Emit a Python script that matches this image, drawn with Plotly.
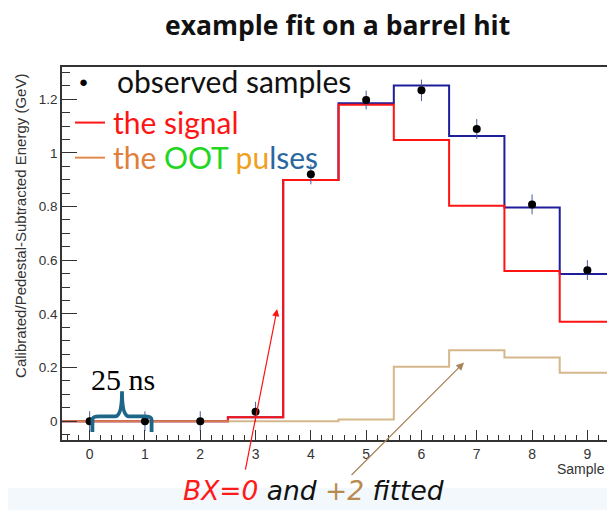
import plotly.graph_objects as go

# ---- data ----
samples = [0, 1, 2, 3, 4, 5, 6, 7, 8, 9]
observed = [0.0, 0.0, 0.0, 0.035, 0.92, 1.197, 1.233, 1.089, 0.808, 0.563]
observed_err = [0.037, 0.037, 0.037, 0.037, 0.037, 0.035, 0.040, 0.037, 0.037, 0.037]
signal = [0.0, 0.0, 0.0, 0.015, 0.899, 1.179, 1.048, 0.803, 0.56, 0.371]
oot = [0.0, 0.0, 0.0, 0.0, 0.0, 0.006, 0.203, 0.264, 0.237, 0.181]
total = [0.0, 0.0, 0.0, 0.015, 0.899, 1.185, 1.251, 1.063, 0.796, 0.549]

x_tick_vals = [0, 1, 2, 3, 4, 5, 6, 7, 8, 9]
y_tick_vals = [0, 0.2, 0.4, 0.6, 0.8, 1.0, 1.2]
y_tick_text = ["0", "0.2", "0.4", "0.6", "0.8", "1", "1.2"]


def step_xy(centers, values):
    xs = [c - 0.5 for c in centers] + [centers[-1] + 0.5]
    ys = list(values) + [values[-1]]
    return xs, ys


RED = "#ff1414"
BLUE = "#1e1e9a"
TAN = "#c9a066"
SANS = "Lato"

fig = go.Figure()

for vals, col, op in [(total, BLUE, 1.0), (signal, RED, 1.0), (oot, TAN, 0.75)]:
    xs, ys = step_xy(samples, vals)
    fig.add_trace(go.Scatter(x=xs, y=ys, mode="lines", line_shape="hv",
                             line=dict(color=col, width=2), opacity=op,
                             hoverinfo="skip", showlegend=False))

fig.add_trace(go.Scatter(
    x=samples, y=observed, mode="markers",
    marker=dict(color="black", size=8),
    error_y=dict(type="data", array=observed_err, color="#4a5aa0",
                 thickness=1, width=0),
    showlegend=False))


# brace spanning one sample (25 ns)
def brace_path(x0, x1, ybar, ytip, yarm):
    xm = (x0 + x1) / 2
    return (f"M {x0},{yarm} L {x0},{ybar - 0.012} "
            f"Q {x0},{ybar} {x0 + 0.13},{ybar} "
            f"L {xm - 0.13},{ybar} Q {xm},{ybar} {xm},{ytip} "
            f"Q {xm},{ybar} {xm + 0.13},{ybar} "
            f"L {x1 - 0.13},{ybar} Q {x1},{ybar} {x1},{ybar - 0.012} L {x1},{yarm}")


shapes = [
    # faint band at bottom
    dict(type="rect", xref="paper", yref="paper", x0=-0.2, x1=1.05,
         y0=-0.22, y1=-0.129, line=dict(width=0), fillcolor="#f3f8fc",
         layer="below"),
    dict(type="path", xref="x", yref="y",
         path=brace_path(0.05, 1.12, 0.018, 0.112, -0.04),
         line=dict(color="#1d6688", width=3.8)),
    # legend line samples
    dict(type="line", xref="paper", yref="paper", x0=0.0239, x1=0.0789,
         y0=0.851, y1=0.851, line=dict(color=RED, width=2)),
    dict(type="line", xref="paper", yref="paper", x0=0.0239, x1=0.0789,
         y0=0.757, y1=0.757, line=dict(color="#e08a4c", width=2)),
]

annotations = [
    dict(text="<b>example fit on a barrel hit</b>", xref="paper", yref="paper",
         x=0.5064, y=1.113, xanchor="center", yanchor="middle", showarrow=False,
         font=dict(family="Open Sans", size=26.5, color="#111")),
    dict(text="●", xref="paper", yref="paper", x=0.040, y=0.962,
         xanchor="center", yanchor="middle", showarrow=False,
         font=dict(size=15, color="black")),
    dict(text="observed samples", xref="paper", yref="paper", x=0.0972, y=0.962,
         xanchor="left", yanchor="middle", showarrow=False,
         font=dict(family=SANS, size=30, color="#111")),
    dict(text="the signal", xref="paper", yref="paper", x=0.0899, y=0.853,
         xanchor="left", yanchor="middle", showarrow=False,
         font=dict(family=SANS, size=30, color=RED)),
    dict(text="<span style='color:#e07f3c'>the </span>"
              "<span style='color:#22d622'>OOT</span> "
              "<span style='color:#f0a020'>pu</span>"
              "<span style='color:#2a66a0'>lses</span>",
         xref="paper", yref="paper", x=0.0899, y=0.759,
         xanchor="left", yanchor="middle", showarrow=False,
         font=dict(family=SANS, size=30)),
    dict(text="25 ns", xref="x", yref="y", x=0.6, y=0.155,
         xanchor="center", yanchor="middle", showarrow=False,
         font=dict(family="Liberation Serif", size=30, color="black")),
    dict(text="Calibrated/Pedestal-Subtracted Energy (GeV)", xref="paper",
         yref="paper", x=-0.0752, y=0.574, textangle=-90,
         xanchor="center", yanchor="middle", showarrow=False,
         font=dict(family="Liberation Sans", size=15, color="#333")),
    dict(text="Sample", xref="paper", yref="paper", x=1.0, y=-0.079,
         xanchor="right", yanchor="middle", showarrow=False,
         font=dict(family="Liberation Sans", size=14, color="#333")),
    # arrows
    dict(text="", x=3.39, y=0.418, xref="x", yref="y", ax=-32, ay=162,
         showarrow=True, arrowhead=2, arrowsize=1.2, arrowwidth=1.2,
         arrowcolor=RED),
    dict(text="", x=6.77, y=0.219, xref="x", yref="y", ax=-114, ay=114,
         showarrow=True, arrowhead=2, arrowsize=1.2, arrowwidth=1.3,
         arrowcolor="#a8865a"),
    dict(text="<i><span style='color:#ff1a1a'>BX=0</span> and "
              "<span style='color:#b88a50'>+2</span> fitted</i>",
         xref="paper", yref="paper", x=0.4606, y=-0.1367,
         xanchor="center", yanchor="middle", showarrow=False,
         font=dict(family="DejaVu Sans", size=26.5, color="#111")),
]

fig.update_layout(
    width=599, height=502,
    margin=dict(l=54, r=0, t=59, b=70),
    paper_bgcolor="white", plot_bgcolor="white",
    shapes=shapes, annotations=annotations,
    xaxis=dict(range=[-0.5, 9.355], tickvals=x_tick_vals, ticks="inside",
               ticklen=10, tickcolor="#333", showline=True, linecolor="#333",
               linewidth=1.5, mirror=True, showgrid=False, zeroline=False,
               tickfont=dict(family="Liberation Sans", size=14, color="#333"),
               minor=dict(dtick=0.2, tick0=0, ticks="inside", ticklen=5,
                          tickcolor="#333", showgrid=False)),
    yaxis=dict(range=[-0.07, 1.32], tickvals=y_tick_vals, ticktext=y_tick_text,
               ticks="inside", ticklen=15, tickcolor="#333", showline=True,
               linecolor="#333", linewidth=1.5, mirror=False, showgrid=False,
               zeroline=False,
               tickfont=dict(family="Liberation Sans", size=13.5, color="#333"),
               minor=dict(dtick=0.05, tick0=0, ticks="inside", ticklen=8,
                          tickcolor="#333", showgrid=False)),
)

fig.write_html("out.html")
